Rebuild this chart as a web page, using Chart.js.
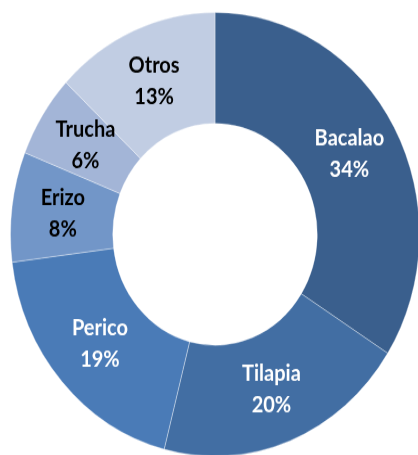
<!DOCTYPE html>
<html>
<head>
<meta charset="utf-8">
<script src="https://cdn.jsdelivr.net/npm/chart.js@4/dist/chart.umd.min.js"></script>
<style>
  html, body { margin: 0; padding: 0; background: #ffffff; overflow: hidden; width: 418px; height: 455px; }
  #wrap { position: absolute; left: 0; top: 0; width: 430px; height: 432px; transform: scaleY(1.085); transform-origin: 0 0; }
  canvas { display: block; }
</style>
</head>
<body>
<div id="wrap"><canvas id="c" width="430" height="432"></canvas></div>
<script>
const categories = ["Bacalao", "Tilapia", "Perico", "Erizo", "Trucha", "Otros"];
const values = [34, 20, 19, 8, 6, 13];
const sliceColors = ["#3a5f8d", "#426ea3", "#4a7bb7", "#7296c8", "#a3b5d7", "#c1cde3"];
const labelColors = ["#ffffff", "#ffffff", "#ffffff", "#000000", "#000000", "#000000"];

const total = values.reduce((a, b) => a + b, 0);

const labelPlugin = {
  id: 'sliceLabels',
  afterDatasetsDraw(chart) {
    const ctx = chart.ctx;
    const meta = chart.getDatasetMeta(0);
    ctx.save();
    ctx.font = 'bold 20px Lato, "Open Sans", sans-serif';
    ctx.textAlign = 'center';
    ctx.textBaseline = 'middle';
    meta.data.forEach((arc, i) => {
      const p = arc.getProps(['x', 'y', 'startAngle', 'endAngle', 'innerRadius', 'outerRadius'], true);
      const a = (p.startAngle + p.endAngle) / 2;
      const r = (p.innerRadius + p.outerRadius) / 2;
      const cx = p.x + Math.cos(a) * r;
      const cy = p.y + Math.sin(a) * r;
      const pct = Math.round(values[i] / total * 100) + '%';
      ctx.fillStyle = labelColors[i];
      ctx.fillText(categories[i], cx, cy - 14.5);
      ctx.fillText(pct, cx, cy + 14.5);
    });
    ctx.restore();
  }
};

new Chart(document.getElementById('c'), {
  type: 'doughnut',
  data: {
    labels: categories,
    datasets: [{
      data: values,
      backgroundColor: sliceColors,
      borderColor: 'rgba(255,255,255,0.35)',
      borderWidth: 1
    }]
  },
  options: {
    responsive: false,
    animation: false,
    cutout: '50%',
    layout: { padding: 10 },
    plugins: {
      legend: { display: false },
      tooltip: { enabled: false }
    }
  },
  plugins: [labelPlugin]
});
</script>
</body>
</html>
